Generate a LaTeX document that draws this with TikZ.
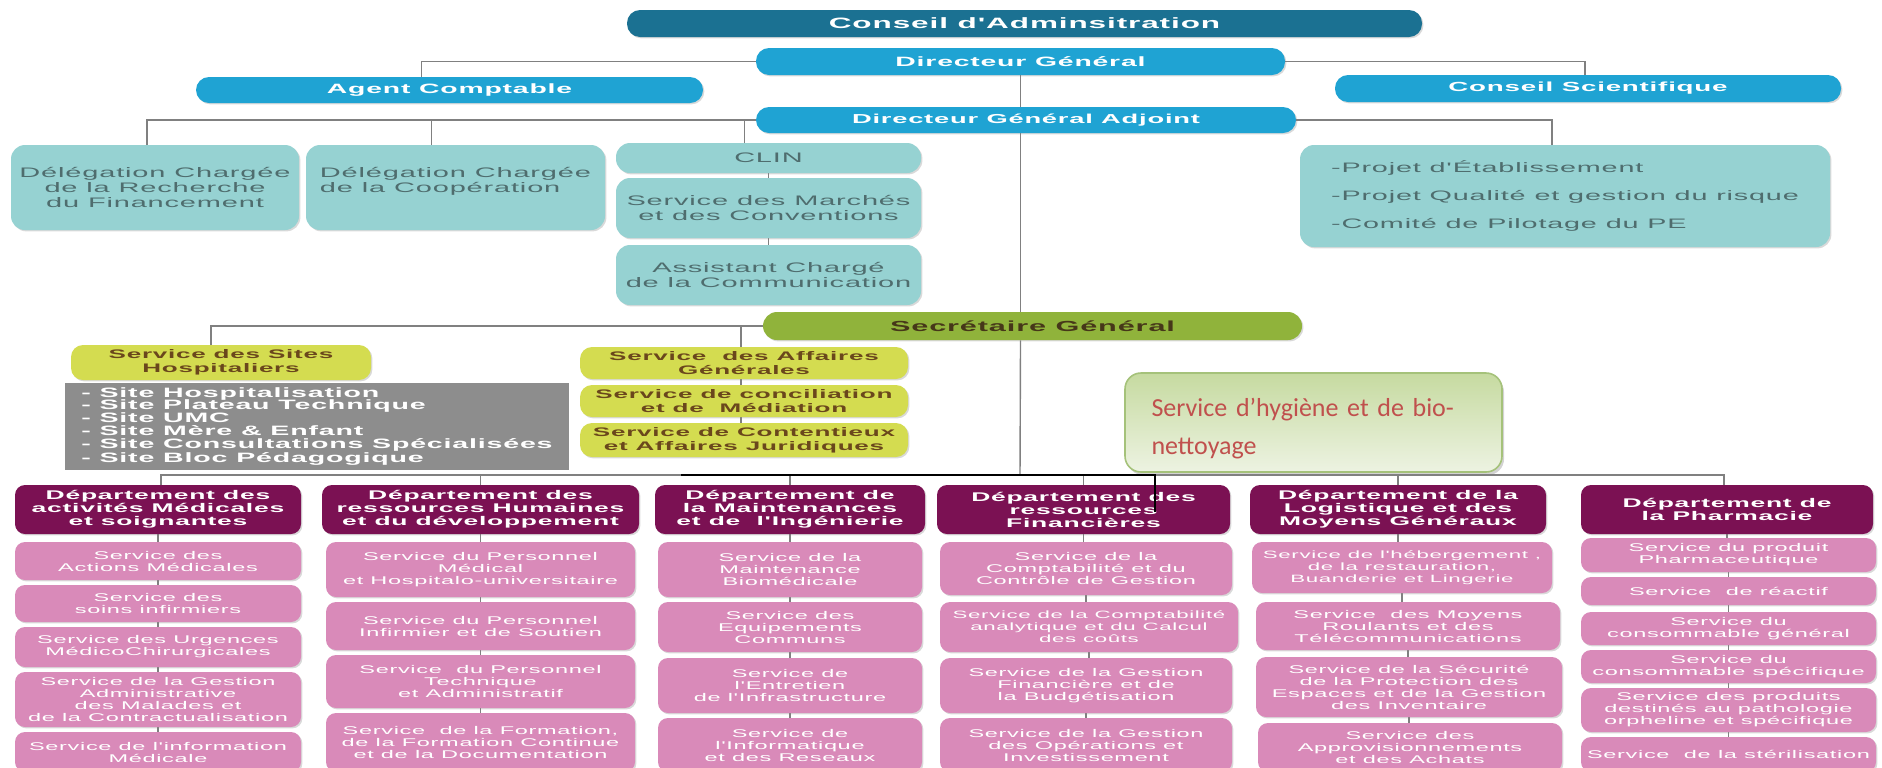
\documentclass[tikz,border=0pt]{standalone}
\usepackage{fontspec}
\usetikzlibrary{shadows,backgrounds}
\newfontfamily\orgfont[FakeStretch=2.1,LetterSpace=6]{Liberation Sans}
\newfontfamily\hygfont{Carlito}

\definecolor{boardteal}{HTML}{1B7192}
\definecolor{dirblue}{HTML}{1FA3D3}
\definecolor{lightteal}{HTML}{96D2D2}
\definecolor{tealtext}{HTML}{4F6D6E}
\definecolor{sgolive}{HTML}{90B33B}
\definecolor{sgtext}{HTML}{463719}
\definecolor{limefill}{HTML}{D4DC50}
\definecolor{limetext}{HTML}{6A471C}
\definecolor{sitegrey}{HTML}{8D8D8D}
\definecolor{deptplum}{HTML}{7B1153}
\definecolor{svcpink}{HTML}{D98AB9}
\definecolor{linkgrey}{HTML}{808080}
\definecolor{hygtop}{HTML}{C6DAA0}
\definecolor{hygbot}{HTML}{EDF3E2}
\definecolor{hygedge}{HTML}{A5C27A}
\definecolor{hygred}{HTML}{C0504D}

% box given by its corners in pixel units: name, style, x1, y1, x2, y2, text
\newcommand{\orgbox}[7]{%
  \node[#2, minimum width={(#5-#3)*0.5pt}, minimum height={(#6-#4)*0.5pt}]
    (#1) at ({(#3+#5)/2},{(#4+#6)/2}) {#7};}
\newcommand{\orgsize}[2]{\fontsize{#1}{#2}\selectfont}

\tikzset{
  orgbase/.style={inner sep=0pt, align=center,
    drop shadow={shadow xshift=0.7pt, shadow yshift=-0.7pt, opacity=0.3}},
  boardpill/.style={orgbase, rounded corners=6.5pt, fill=boardteal, text=white,
    font=\orgfont\bfseries\orgsize{7.5}{8}},
  dirpill/.style={orgbase, rounded corners=6.5pt, fill=dirblue, text=white,
    font=\orgfont\bfseries\orgsize{6.6}{7.5}},
  tealbox/.style={orgbase, rounded corners=7pt, fill=lightteal, text=tealtext,
    font=\orgfont\orgsize{6.9}{7.3}},
  sgpill/.style={orgbase, rounded corners=7pt, fill=sgolive, text=sgtext,
    font=\orgfont\bfseries\orgsize{7.3}{8}},
  limebox/.style={orgbase, rounded corners=6pt, fill=limefill, text=limetext,
    font=\orgfont\bfseries\orgsize{6.2}{7}},
  sitebox/.style={inner sep=0pt, align=left, fill=sitegrey, text=white,
    font=\orgfont\bfseries\orgsize{6.8}{6.35}},
  deptbox/.style={orgbase, rounded corners=5pt, fill=deptplum, text=white,
    font=\orgfont\bfseries\orgsize{6.3}{6.5}},
  svcbox/.style={orgbase, rounded corners=5pt, fill=svcpink, text=white,
    font=\orgfont\orgsize{5.6}{6}},
  svcsmall/.style={svcbox, font=\orgfont\orgsize{5.3}{6}},
  hygbox/.style={inner sep=0pt, rounded corners=8pt, draw=hygedge, line width=0.8pt,
    top color=hygtop, bottom color=hygbot, text=hygred, align=left, text width=162pt,
    font=\hygfont\orgsize{13}{19},
    drop shadow={shadow xshift=1pt, shadow yshift=-1.5pt, opacity=0.35}},
  link/.style={draw=linkgrey, line width=0.7pt},
  hyglink/.style={draw=black, line width=1.1pt},
}

\begin{document}
\begin{tikzpicture}[x=0.5pt,y=-0.5pt]
\useasboundingbox (0,0) rectangle (1882,767);

% governance
\orgbox{board}{boardpill}{627}{10}{1422}{37}{Conseil d'Adminsitration}
\orgbox{dg}{dirpill, font=\orgfont\bfseries\orgsize{6.75}{7.5}}{756}{48}{1285}{75}{Directeur Général}
\orgbox{ac}{dirpill, font=\orgfont\bfseries\orgsize{6.75}{7.5}}{196}{77}{703}{103}{Agent Comptable}
\orgbox{cs}{dirpill}{1335}{75}{1841}{102}{Conseil Scientifique}
\orgbox{dga}{dirpill, font=\orgfont\bfseries\orgsize{6.5}{7.5}}{756}{107}{1296}{133}{Directeur Général Adjoint}

% units attached to the deputy director
\orgbox{delrech}{tealbox}{11}{145}{299}{230}{Délégation Chargée\\de la Recherche\\du Financement}
\orgbox{delcoop}{tealbox, align=left}{306}{145}{605}{230}{Délégation Chargée\\de la Coopération\\\mbox{}}
\orgbox{clin}{tealbox}{616}{143}{921}{173}{CLIN}
\orgbox{marches}{tealbox}{616}{178}{921}{238}{Service des Marchés\\et des Conventions}
\orgbox{assist}{tealbox}{616}{245}{921}{305}{Assistant Chargé\\de la Communication}
\orgbox{projet}{tealbox, align=left, font=\orgfont\orgsize{6.85}{14}}{1300}{145}{1830}{247}{-Projet d'Établissement\\-Projet Qualité et gestion du risque\\-Comité de Pilotage du PE}

% general secretariat
\orgbox{sg}{sgpill}{763}{312}{1302}{340}{Secrétaire Général}
\orgbox{sites}{limebox}{71}{345}{371}{380}{Service des Sites\\Hospitaliers}
\orgbox{sitelist}{sitebox}{65}{383}{569}{470}{- Site Hospitalisation\\- Site Plateau Technique\\- Site UMC\\- Site Mère \& Enfant\\- Site Consultations Spécialisées\\- Site Bloc Pédagogique}
\orgbox{affaires}{limebox}{580}{347}{908}{379}{Service \ des Affaires\\Générales}
\orgbox{concil}{limebox}{580}{385}{908}{417}{Service de conciliation\\et de \ Médiation}
\orgbox{contentieux}{limebox}{580}{423}{908}{457}{Service de Contentieux\\et Affaires Juridiques}

% departments
\orgbox{d1}{deptbox}{15}{485}{301}{534}{Département des\\activités Médicales\\et soignantes}
\orgbox{d2}{deptbox}{322}{485}{639}{534}{Département des\\ressources Humaines\\et du développement}
\orgbox{d3}{deptbox}{655}{485}{925}{534}{Département de\\la Maintenances\\et de \ l'Ingénierie}
\orgbox{d4}{deptbox}{937}{485}{1230}{534}{Département des\\ressources\\Financières}
\orgbox{d5}{deptbox}{1250}{485}{1546}{534}{Département de la\\Logistique et des\\Moyens Généraux}
\orgbox{d6}{deptbox}{1581}{485}{1873}{534}{Département de\\la Pharmacie}

% services, department 1
\orgbox{sa1}{svcbox}{15}{542}{301}{580}{Service des\\Actions Médicales}
\orgbox{sa2}{svcbox}{15}{585}{301}{622}{Service des\\soins infirmiers}
\orgbox{sa3}{svcbox}{15}{627}{301}{667}{Service des Urgences\\MédicoChirurgicales}
\orgbox{sa4}{svcbox}{15}{672}{301}{727}{Service de la Gestion\\Administrative\\des Malades et\\de la Contractualisation}
\orgbox{sa5}{svcbox}{15}{732}{301}{772}{Service de l'information\\Médicale}
% services, department 2
\orgbox{sb1}{svcbox}{326}{542}{635}{597}{Service du Personnel\\Médical\\et Hospitalo-universitaire}
\orgbox{sb2}{svcbox}{326}{602}{635}{650}{Service du Personnel\\Infirmier et de Soutien}
\orgbox{sb3}{svcbox}{326}{655}{635}{708}{Service \ du Personnel\\Technique\\et Administratif}
\orgbox{sb4}{svcbox}{326}{713}{635}{772}{Service \ de la Formation,\\de la Formation Continue\\et de la Documentation}
% services, department 3
\orgbox{sc1}{svcbox}{658}{542}{922}{597}{Service de la\\Maintenance\\Biomédicale}
\orgbox{sc2}{svcbox}{658}{602}{922}{652}{Service des\\Equipements\\Communs}
\orgbox{sc3}{svcbox}{658}{658}{922}{713}{Service de\\l'Entretien\\de l'Infrastructure}
\orgbox{sc4}{svcbox}{658}{718}{922}{772}{Service de\\l'Informatique\\et des Reseaux}
% services, department 4
\orgbox{sd1}{svcbox}{940}{542}{1232}{595}{Service de la\\Comptabilité et du\\Contrôle de Gestion}
\orgbox{sd2}{svcsmall}{940}{602}{1238}{652}{Service de la Comptabilité\\analytique et du Calcul\\des coûts}
\orgbox{sd3}{svcbox}{940}{658}{1232}{713}{Service de la Gestion\\Financière et de\\la Budgétisation}
\orgbox{sd4}{svcbox}{940}{718}{1232}{772}{Service de la Gestion\\des Opérations et\\Investissement}
% services, department 5
\orgbox{se1}{svcsmall}{1252}{542}{1552}{593}{Service de l'hébergement ,\\de la restauration,\\Buanderie et Lingerie}
\orgbox{se2}{svcbox}{1256}{602}{1560}{650}{Service \ des Moyens\\Roulants et des\\Télécommunications}
\orgbox{se3}{svcbox}{1256}{657}{1562}{717}{Service de la Sécurité\\de la Protection des\\Espaces et de la Gestion\\des Inventaire}
\orgbox{se4}{svcbox}{1258}{723}{1562}{772}{Service des\\Approvisionnements\\et des Achats}
% services, department 6
\orgbox{sf1}{svcbox}{1581}{538}{1876}{572}{Service du produit\\Pharmaceutique}
\orgbox{sf2}{svcbox}{1581}{577}{1876}{605}{Service \ de réactif}
\orgbox{sf3}{svcbox}{1581}{612}{1876}{645}{Service du\\consommable général}
\orgbox{sf4}{svcbox}{1581}{650}{1876}{683}{Service du\\consommable spécifique}
\orgbox{sf5}{svcbox}{1581}{688}{1876}{732}{Service des produits\\destinés au pathologie\\orpheline et spécifique}
\orgbox{sf6}{svcbox}{1581}{737}{1876}{772}{Service \ de la stérilisation}

% hygiene service added over the chart
\orgbox{hygiene}{hygbox}{1125}{373}{1502}{472}{\rule{0pt}{15.5pt}Service d’hygiène et de bio-\\nettoyage}

\coordinate (bar) at (1020,475);
\coordinate (hygstart) at (681,475);
\coordinate (hygend) at (1155,512);

\begin{pgfonlayer}{background}
  \draw[link] (dg.west) -| ([xshift=-14pt]ac.north);
  \draw[link] (dg.east) -| ([xshift=-1.5pt]cs.north);
  \draw[link] (dg.south) -- (dg.south |- dga.north);
  \draw[link] (dga.west) -| ([xshift=-4pt]delrech.north);
  \draw[link] ([xshift=-12pt]delcoop.north) -- ([xshift=-12pt]delcoop.north |- dga.west);
  \draw[link] ([xshift=-12pt]clin.north) -- ([xshift=-12pt]clin.north |- dga.west);
  \draw[link] (dga.east) -| ([xshift=-6.5pt]projet.north);
  \draw[link] (clin.south) -- (marches.north);
  \draw[link] (marches.south) -- (assist.north);
  \draw[link] (dga.south -| dg.south) -- (sg.north -| dg.south);
  \draw[link] (sg.south -| dg.south) -- (bar);
  \draw[link] (sg.west) -| ([xshift=-5pt]sites.north);
  \draw[link] ([xshift=-1.5pt]affaires.north) -- ([xshift=-1.5pt]affaires.north |- sg.west);
  \draw[link] ([xshift=-1.5pt]affaires.south) -- ([xshift=-1.5pt]contentieux.north);
  \draw[link] ([xshift=1.5pt]d1.north) |- (bar) -| ([xshift=-1.5pt]d6.north);
  \foreach \d in {d2,d3,d4,d5}
    \draw[link] (\d.north) -- (\d.north |- bar);
  \foreach \a/\b in {d1/sa1,sa1/sa2,sa2/sa3,sa3/sa4,sa4/sa5,
                     d2/sb1,sb1/sb2,sb2/sb3,sb3/sb4,
                     d3/sc1,sc1/sc2,sc2/sc3,sc3/sc4,
                     d4/sd1,sd1/sd2,sd2/sd3,sd3/sd4,
                     d5/se1,se1/se2,se2/se3,se3/se4,
                     d6/sf1,sf1/sf2,sf2/sf3,sf3/sf4,sf4/sf5,sf5/sf6}
    \draw[link] (\a.south) -- (\a.south |- \b.north);
\end{pgfonlayer}

\draw[hyglink] (hygstart) -| (hygend);

\end{tikzpicture}
\end{document}
